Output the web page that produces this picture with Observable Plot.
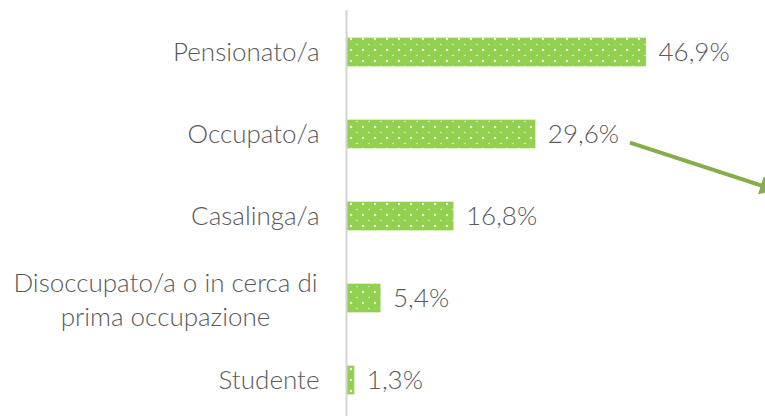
<!DOCTYPE html>
<html><head><meta charset="utf-8">
<script src="https://cdn.jsdelivr.net/npm/d3@7"></script>
<script src="https://cdn.jsdelivr.net/npm/@observablehq/plot@0.6"></script>
<style>body{margin:0;background:#fff;} svg{overflow:hidden}</style>
</head><body><div id="chart"></div>
<script>
const categories = ["Pensionato/a", "Occupato/a", "Casalinga/a", "Disoccupato/a o in cerca di\nprima occupazione", "Studente"];
const values = [46.9, 29.6, 16.8, 5.4, 1.3];
const valueLabels = ["46,9%", "29,6%", "16,8%", "5,4%", "1,3%"];
// annotation arrow (data units: x = percent, y = category index)
const arrowFrom = {x: 44.3, y: 1.1};
const arrowTo = {x: 65.6, y: 1.64};

const data = categories.map((c, i) => ({cat: c, i, v: values[i], label: valueLabels[i]}));
const half = 0.175;
const font = "Lato, 'Open Sans', sans-serif";
const txt = {fill: "#595959", fontSize: 26, fontWeight: 300};
const ang = Math.atan2((arrowTo.y - arrowFrom.y) * 82, (arrowTo.x - arrowFrom.x) * 6.4) * 180 / Math.PI;

const chart = Plot.plot({
  width: 765, height: 416,
  marginLeft: 346, marginRight: 0, marginTop: 10, marginBottom: 0,
  x: {domain: [0, 65.5], axis: null},
  y: {domain: [-0.5, 4.5], range: [11, 421], axis: null},
  style: {fontFamily: font, background: "#fff"},
  marks: [
    Plot.rectX(data, {x1: 0, x2: "v", y1: d => d.i - half, y2: d => d.i + half, fill: "url(#dots)"}),
    Plot.ruleX([0], {stroke: "#d4d4d4", strokeWidth: 2}),
    Plot.text(data.filter(d => !d.cat.includes("\n")), {x: 0, y: "i", text: "cat", textAnchor: "end", dx: -27, ...txt}),
    Plot.text(data.filter(d => d.cat.includes("\n")), {x: 0, y: "i", text: "cat", textAnchor: "middle", dx: -181, dy: 0, lineHeight: 1.3, ...txt}),
    Plot.text(data, {x: "v", y: "i", text: "label", textAnchor: "start", dx: 12, ...txt}),
    Plot.link([{...arrowFrom, x2: arrowTo.x, y2: arrowTo.y}], {x1: "x", y1: "y", x2: "x2", y2: "y2", stroke: "#86ad4a", strokeWidth: 4}),
    Plot.dot([arrowTo], {x: "x", y: "y", symbol: "triangle", r: 7, fill: "#86ad4a", rotate: 90 + ang})
  ]
});
const svg = d3.select(chart);
const defs = svg.insert("defs", ":first-child");
const pat = defs.append("pattern").attr("id", "dots").attr("patternUnits", "userSpaceOnUse")
  .attr("width", 12).attr("height", 11).attr("y", 4);
pat.append("rect").attr("width", 12).attr("height", 11).attr("fill", "#92d050");
pat.append("circle").attr("cx", 3).attr("cy", 2).attr("r", 1.2).attr("fill", "#f4fbe8");
pat.append("circle").attr("cx", 9).attr("cy", 7.5).attr("r", 0.8).attr("fill", "#e4f3cf");
document.getElementById("chart").append(chart);
</script>
</body></html>
